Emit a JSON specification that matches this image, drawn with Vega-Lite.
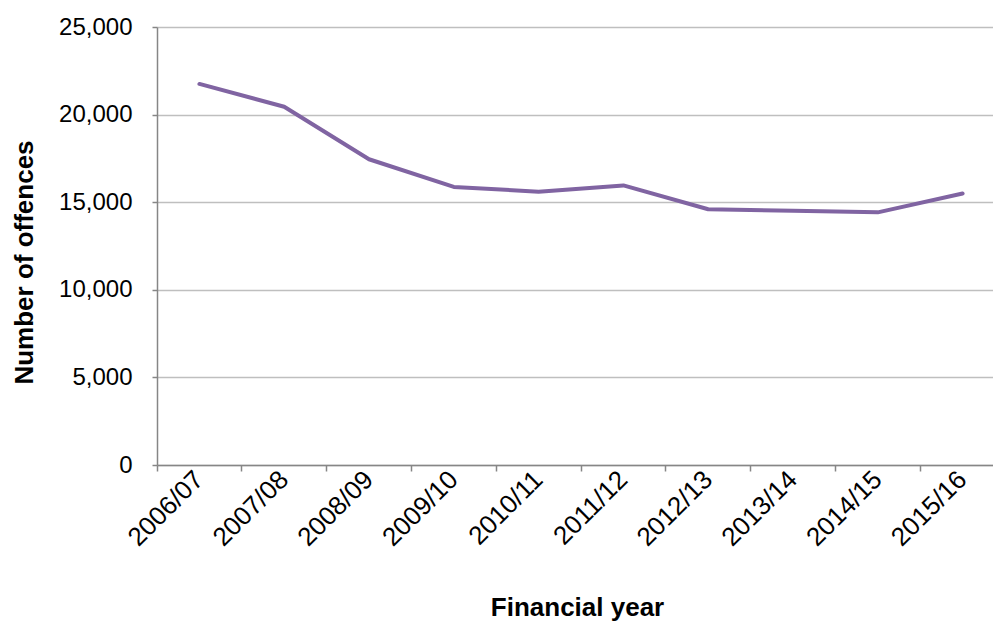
{
  "$schema": "https://vega.github.io/schema/vega-lite/v6.json",
  "width": 848,
  "height": 438,
  "autosize": {"type": "none"},
  "padding": {"left": 157, "top": 27, "right": 0, "bottom": 157},
  "background": "white",
  "config": {
    "font": "Liberation Sans",
    "view": {"stroke": null}
  },
  "data": {
    "values": [
      {"year": "2006/07", "offences": 21750},
      {"year": "2007/08", "offences": 20450},
      {"year": "2008/09", "offences": 17450},
      {"year": "2009/10", "offences": 15870},
      {"year": "2010/11", "offences": 15600},
      {"year": "2011/12", "offences": 15960},
      {"year": "2012/13", "offences": 14600},
      {"year": "2013/14", "offences": 14510},
      {"year": "2014/15", "offences": 14420},
      {"year": "2015/16", "offences": 15500}
    ]
  },
  "mark": {"type": "line", "color": "#8064A2", "strokeWidth": 4, "strokeCap": "round", "strokeJoin": "round"},
  "encoding": {
    "x": {
      "field": "year",
      "type": "nominal",
      "sort": null,
      "scale": {"type": "band", "paddingInner": 0, "paddingOuter": 0},
      "axis": {
        "title": "Financial year",
        "titleFont": "Liberation Sans",
        "titleFontSize": 26,
        "titleFontWeight": "bold",
        "titleColor": "#000000",
        "titleX": 420,
        "titleY": 142,
        "titleAlign": "center",
        "titleBaseline": "middle",
        "labelAngle": -45,
        "labelAlign": "right",
        "labelBaseline": "middle",
        "labelFontSize": 26,
        "labelColor": "#000000",
        "labelPadding": 4,
        "labelFont": "Liberation Sans",
        "labelOverlap": false,
        "bandPosition": 0,
        "domainColor": "#868686",
        "domainWidth": 1.5,
        "tickColor": "#868686",
        "tickSize": 6,
        "tickWidth": 1.5,
        "grid": false
      }
    },
    "y": {
      "field": "offences",
      "type": "quantitative",
      "scale": {"domain": [0, 25000], "nice": false},
      "axis": {
        "title": "Number of offences",
        "titleFont": "Liberation Sans",
        "titleFontSize": 26,
        "titleFontWeight": "bold",
        "titleColor": "#000000",
        "titleAngle": -90,
        "titleX": -133,
        "titleY": 235,
        "titleAlign": "center",
        "titleBaseline": "middle",
        "values": [0, 5000, 10000, 15000, 20000, 25000],
        "format": ",d",
        "labelFontSize": 24,
        "labelColor": "#000000",
        "labelFont": "Liberation Sans",
        "labelPadding": 20,
        "labelOverlap": false,
        "domainColor": "#868686",
        "domainWidth": 1.5,
        "tickColor": "#868686",
        "tickSize": 5,
        "tickWidth": 1.5,
        "grid": true,
        "gridColor": "#BFBFBF",
        "gridWidth": 1.5
      }
    }
  }
}
